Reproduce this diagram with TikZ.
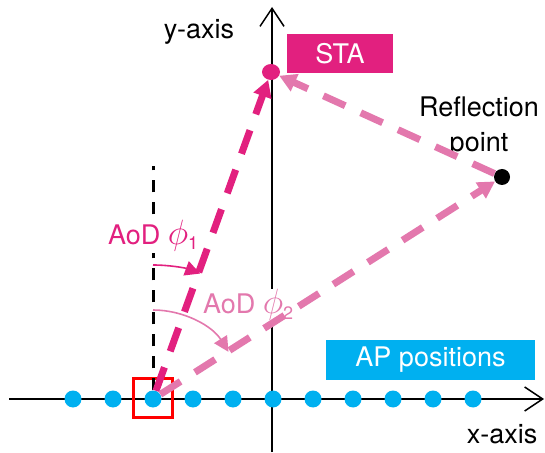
\RequirePackage{fix-cm}
\documentclass[tikz,border=0pt]{standalone}
\usepackage{amsmath}
\usepackage{fontspec}
\setmainfont{TeX Gyre Heros}
\usetikzlibrary{arrows.meta,positioning,shapes.geometric}
\definecolor{stamag}{HTML}{E2207F}
\definecolor{reflpink}{HTML}{E378AD}
\definecolor{apcyan}{HTML}{00B0F0}
\definecolor{selred}{HTML}{FF0000}
\newcommand{\aodtxt}[1]{AoD \scalebox{1.3}{$\phi$}\raisebox{-5pt}{\fontsize{18}{18}\selectfont #1}}
\tikzset{
  axisline/.style = {line width=1.5pt, -{Straight Barb[length=18pt,width=24pt]}},
  apdot/.style    = {circle, fill=apcyan, minimum size=17pt, inner sep=0pt},
  tagbox/.style   = {text=white, inner sep=0pt, font=\fontsize{27}{32}\selectfont},
  plain/.style    = {inner sep=0pt, font=\fontsize{27}{35}\selectfont},
  anglabel/.style = {fill=white, inner sep=1pt, font=\fontsize{27}{32}\selectfont},
  flowmag/.style  = {-{Triangle[length=17pt,width=18pt]}, draw=stamag, line width=7pt,
                     dash pattern=on 25pt off 17pt},
  flowpink/.style = {-{Triangle[length=17pt,width=18pt]}, draw=reflpink, line width=7pt,
                     dash pattern=on 24pt off 17pt},
  anglearc/.style = {-{Triangle[length=15pt,width=15pt]}, line width=1.6pt},
}
\begin{document}
\begin{tikzpicture}[x=1pt,y=1pt]
  \useasboundingbox (0,0) rectangle (545,452);
  % axes
  \coordinate (xl) at (9,53);
  \coordinate (xr) at (544,53);
  \coordinate (yb) at (272,0);
  \coordinate (yt) at (272,445);
  \draw[axisline] (xl) -- (xr);
  \draw[axisline] (yb) -- (yt);
  \node[plain, anchor=base] (xlab) at (502,9) {x-axis};
  \node[plain, anchor=base] (ylab) at (199,413) {y-axis};
  % AP positions
  \foreach \k in {0,...,10}
    \node[apdot] (ap\k) at ({73+40*\k},53) {};
  \node[draw=selred, line width=2.8pt, minimum size=39pt, inner sep=0pt] (sel) at (153,54) {};
  \coordinate (vtop) at (153,286);
  \draw[line width=3pt, dash pattern=on 12pt off 10pt] (ap2) -- (vtop);
  \node[tagbox, fill=apcyan, minimum width=209pt, minimum height=40pt] (apbox) at (430.5,92) {AP positions};
  % STA and reflection point
  \node[ellipse, fill=stamag, minimum width=18pt, minimum height=16pt, inner sep=0pt] (sta) at (271,380) {};
  \node[tagbox, fill=stamag, minimum width=106pt, minimum height=39pt] (stabox) at (340,398.5) {STA};
  \node[circle, fill=black, minimum size=16pt, inner sep=0pt] (refl) at (502,275) {};
  \node[plain, align=center] (refltxt) at (479,325) {Reflection\\point};
  % angles
  \node[anglabel, text=stamag, anchor=base west] (aod1) at (107,207) {\aodtxt{1}};
  \node[anglabel, text=reflpink, anchor=base west] (aod2) at (202,138) {\aodtxt{2}};
  \coordinate (arc1) at (153,187);
  \coordinate (arc2) at (153,142);
  \draw[anglearc, stamag] (arc1) arc[start angle=90, end angle=69.4, radius=134];
  \draw[anglearc, reflpink] (arc2) arc[start angle=90, end angle=32, radius=89];
  % paths
  \draw[flowmag] (ap2) -- (sta);
  \draw[flowpink] (ap2) -- (refl);
  \draw[flowpink] (refl) -- (sta);
\end{tikzpicture}
\end{document}
